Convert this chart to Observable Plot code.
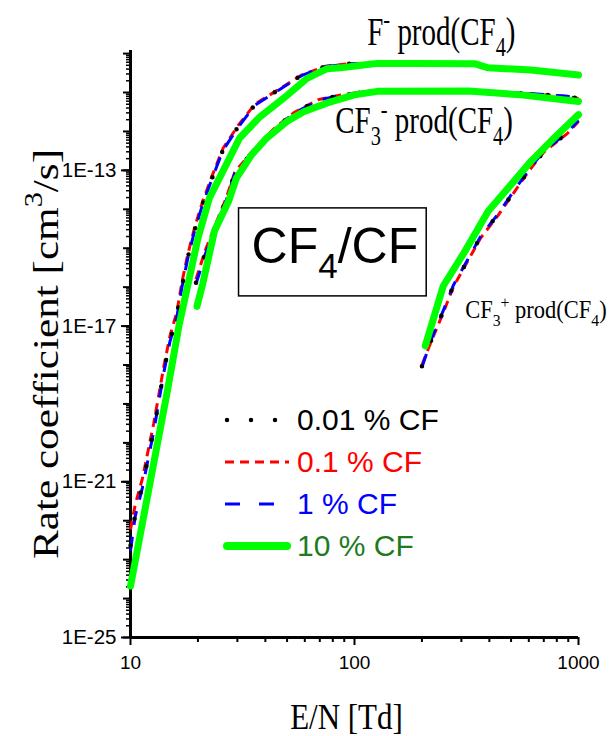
<!DOCTYPE html>
<html>
<head>
<meta charset="utf-8">
<script src="https://cdn.jsdelivr.net/npm/d3@7"></script>
<script src="https://cdn.jsdelivr.net/npm/@observablehq/plot@0.6"></script>
<style>
  html, body { margin: 0; padding: 0; background: #fff; }
  #wrap { position: relative; width: 611px; height: 736px; overflow: hidden; background: #fff; }
  #wrap svg { overflow: visible; }
  #legend { position: absolute; left: 225px; top: 399px; font-family: 'Liberation Sans', Arial, sans-serif; font-size: 30px; }
  #legend .row { display: flex; align-items: center; height: 42px; white-space: pre; }
  #legend .row svg { width: 72px; height: 42px; flex: none; }
</style>
</head>
<body>
<div id="wrap"></div>
<script>
const SANS = "'Liberation Sans', Arial, Helvetica, sans-serif";
const SERIF = "'Liberation Serif', 'Times New Roman', Times, serif";

// ---------- data: F- production from CF4 ----------
const fX    = [10, 10.5, 11.3, 12.7, 13.4, 14.1, 15, 16.1, 17, 18, 19.3, 21, 23.3, 25.9, 30.3, 35.9, 45.8, 58.3, 74.3, 96, 186, 343, 395, 614, 1000];
const fY001 = [2.3e-23, 1.5e-22, 7.9e-22, 2.2e-20, 1.3e-19, 7.1e-19, 4.2e-18, 1.8e-17, 1.1e-16, 5.6e-16, 2.8e-15, 1.4e-14, 7.1e-14, 3.4e-13, 1.35e-12, 4.8e-12, 1.17e-11, 2.8e-11, 4.7e-11, 5.5e-11, 5.6e-11, 5.6e-11, 4.2e-11, 3.8e-11, 2.8e-11];
const fY01  = [6.0e-23, 2.6e-22, 1.2e-21, 3.2e-20, 1.8e-19, 9.5e-19, 5.5e-18, 2.3e-17, 1.4e-16, 6.8e-16, 3.3e-15, 1.6e-14, 8.0e-14, 3.7e-13, 1.45e-12, 5.0e-12, 1.2e-11, 2.85e-11, 4.75e-11, 5.5e-11, 5.6e-11, 5.6e-11, 4.2e-11, 3.8e-11, 2.8e-11];
const fY1   = [1.7e-23, 1.3e-22, 7.0e-22, 2.0e-20, 1.2e-19, 6.6e-19, 4.0e-18, 1.7e-17, 1.05e-16, 5.4e-16, 2.7e-15, 1.35e-14, 6.9e-14, 3.3e-13, 1.3e-12, 4.7e-12, 1.15e-11, 2.75e-11, 4.65e-11, 5.5e-11, 5.6e-11, 5.6e-11, 4.2e-11, 3.8e-11, 2.8e-11];
const fGreenX = [10, 14.6, 16.5, 18.6, 20, 22.5, 25.4, 30.7, 37.9, 48.2, 61.4, 75.5, 86.7, 107, 127, 186, 343, 395, 614, 1000];
const fGreenY = [2.1e-24, 2.1e-19, 1.1e-17, 2.6e-16, 1.8e-15, 1.95e-14, 7.8e-14, 6.8e-13, 2.4e-12, 7.1e-12, 2.3e-11, 4.1e-11, 4.3e-11, 5.0e-11, 5.6e-11, 5.6e-11, 5.5e-11, 4.3e-11, 3.8e-11, 2.8e-11];

// ---------- data: CF3- production from CF4 ----------
const cX    = [19.6, 21.6, 24, 26.8, 29.2, 35.3, 43.5, 53.5, 69.3, 88.3, 120, 323, 571, 895, 1000];
const cY001 = [1.3e-16, 7.6e-16, 3.6e-15, 1.8e-14, 8.5e-14, 3.1e-13, 1.1e-12, 2.95e-12, 6.5e-12, 8.7e-12, 1.1e-11, 1.1e-11, 9.5e-12, 7.9e-12, 7.1e-12];
const cY01  = [1.6e-16, 9.0e-16, 4.2e-15, 2.0e-14, 9.0e-14, 3.3e-13, 1.15e-12, 3.0e-12, 6.6e-12, 8.8e-12, 1.1e-11, 1.1e-11, 9.5e-12, 7.9e-12, 7.0e-12];
const cY1   = [1.2e-16, 7.2e-16, 3.4e-15, 1.75e-14, 8.3e-14, 3.0e-13, 1.08e-12, 2.9e-12, 6.4e-12, 8.6e-12, 1.1e-11, 1.1e-11, 9.6e-12, 8.0e-12, 7.2e-12];
const cGreenX = [19.8, 21, 23.7, 27.4, 29.7, 34.7, 40.6, 49.9, 59.3, 75.5, 99.7, 126.5, 323, 553, 1000];
const cGreenY = [3.2e-17, 1.2e-16, 2.75e-15, 1.6e-14, 6.3e-14, 2.5e-13, 6.8e-13, 1.8e-12, 3.2e-12, 5.4e-12, 8.7e-12, 1.07e-11, 1.1e-11, 8.7e-12, 5.9e-12];

// ---------- data: CF3+ production from CF4 ----------
const pX    = [200, 221, 249, 276, 319, 366, 436, 509, 603, 702, 891, 1000];
const pY001 = [9.3e-19, 4.6e-18, 2.4e-17, 1.07e-16, 4.8e-16, 2.0e-15, 7.2e-15, 2.6e-14, 1.05e-13, 3.1e-13, 9.1e-13, 1.9e-12];
const pY01  = [1.0e-18, 4.3e-18, 2.2e-17, 1.0e-16, 4.5e-16, 1.85e-15, 6.8e-15, 2.45e-14, 1.0e-13, 3.0e-13, 8.8e-13, 1.8e-12];
const pY1   = [8.8e-19, 4.8e-18, 2.5e-17, 1.1e-16, 4.9e-16, 2.05e-15, 7.4e-15, 2.7e-14, 1.08e-13, 3.2e-13, 9.3e-13, 1.95e-12];
const pGreenX = [207, 249, 311, 395, 500, 613, 778, 1000];
const pGreenY = [3.1e-18, 1.07e-16, 8.3e-16, 8.9e-15, 4.3e-14, 1.7e-13, 6.8e-13, 2.7e-12];

// ---------- series, ticks, labels ----------
const seriesKeys = ["0.01", "0.1", "1", "10"];
const drawOrder = ["0.1", "1", "0.01", "10"];
const legendLabels = ["0.01 % CF", "0.1 % CF", "1 % CF", "10 % CF"];
const xTicksMajor = [10, 100, 1000];
const xTickLabels = ["10", "100", "1000"];
const yTicksMajor = [1e-25, 1e-21, 1e-17, 1e-13];
const yTickLabels = ["1E-25", "1E-21", "1E-17", "1E-13"];
const xLabel = "E/N [Td]";
const yLabel = "Rate coefficient [cm^{3}/s]";
const noteTexts = ["F^{-} prod(CF_{4})", "CF_{3}^{-} prod(CF_{4})", "CF_{3}^{+} prod(CF_{4})", "CF_{4}/CF"];
const noteX = [114, 82, 312, 34.7];
const noteY = [1.7e-10, 8.9e-13, 1.6e-17, 4.2e-16];

// ---------- styles ----------
const S = {
  "0.01": {stroke: "#000000", width: 4.5, dash: "0,27", cap: "round", text: "#000000"},
  "0.1":  {stroke: "#ff0000", width: 3,   dash: "9,6",  cap: "butt",  text: "#ff0000"},
  "1":    {stroke: "#0000ff", width: 3,   dash: "14,12", cap: "butt", text: "#0000ff"},
  "10":   {stroke: "#00ff00", width: 7,   dash: null,   cap: "round", text: "#1e7b1e"}
};
const noteStyle = [
  {family: SERIF, size: 29, sy: 1.35, box: false},
  {family: SERIF, size: 29, sy: 1.3, box: false},
  {family: SERIF, size: 22.5, sy: 1.12, box: false},
  {family: SANS, size: 50, sy: 1, box: true}
];

// ---------- tidy rows ----------
const rows = [];
function add(product, key, xs, ys) { xs.forEach((x, i) => rows.push({product, key, x, y: ys[i]})); }
add("F-", "0.01", fX, fY001); add("F-", "0.1", fX, fY01); add("F-", "1", fX, fY1); add("F-", "10", fGreenX, fGreenY);
add("CF3-", "0.01", cX, cY001); add("CF3-", "0.1", cX, cY01); add("CF3-", "1", cX, cY1); add("CF3-", "10", cGreenX, cGreenY);
add("CF3+", "0.01", pX, pY001); add("CF3+", "0.1", pX, pY01); add("CF3+", "1", pX, pY1); add("CF3+", "10", pGreenX, pGreenY);

// minor tick positions
const xMinor = [];
for (let e = 1; e < 3; e++) for (let m = 2; m <= 9; m++) xMinor.push(m * 10 ** e);
const yDecades = [], yMinor = [];
for (let e = -25; e <= -10; e++) {
  yDecades.push(+(`1e${e}`));
  for (let m = 2; m <= 9; m++) { const v = +(`${m}e${e}`); if (v <= 1.2e-10) yMinor.push(v); }
}

const lineMarks = drawOrder.map(k => Plot.line(rows.filter(r => r.key === k), {
  x: "x", y: "y", z: "product",
  stroke: S[k].stroke, strokeWidth: S[k].width,
  strokeDasharray: S[k].dash || undefined, strokeLinecap: S[k].cap, strokeLinejoin: "round"
}));

const noteMarks = noteTexts.map((t, i) => Plot.text([i], {
  x: d => noteX[d], y: d => noteY[d], text: d => noteTexts[d],
  textAnchor: "start", lineAnchor: "bottom",
  fontFamily: noteStyle[i].family, fontSize: noteStyle[i].size, fill: "black"
}));

const chart = Plot.plot({
  width: 611, height: 736,
  marginLeft: 130, marginRight: 33, marginTop: 50, marginBottom: 99,
  style: {fontFamily: SANS, fontSize: "19px", color: "black", background: "white", overflow: "visible"},
  x: {type: "log", domain: [10, 1000], axis: null},
  y: {type: "log", domain: [1e-25, 1.2e-10], axis: null},
  marks: [
    Plot.axisX({ticks: xMinor, tickSize: 5, strokeWidth: 2, tickFormat: () => "", label: null}),
    Plot.axisX({ticks: xTicksMajor, tickSize: 8, tickPadding: 10, strokeWidth: 2, fontSize: 19,
      tickFormat: d => xTickLabels[xTicksMajor.indexOf(d)], label: null}),
    Plot.axisY({ticks: yMinor, tickSize: 4, strokeWidth: 1.5, tickFormat: () => "", label: null}),
    Plot.axisY({ticks: yDecades, tickSize: 7, strokeWidth: 2, tickFormat: () => "", label: null}),
    Plot.axisY({ticks: yTicksMajor, tickSize: 9, tickPadding: 5, strokeWidth: 2, fontSize: 20.5,
      tickFormat: d => yTickLabels[yTicksMajor.indexOf(d)], label: null}),
    Plot.ruleX([10], {strokeWidth: 3}),
    Plot.ruleY([1e-25], {strokeWidth: 3}),
    ...lineMarks,
    ...noteMarks,
    Plot.text([xLabel], {frameAnchor: "bottom", text: d => d, dx: -8, dy: 91, lineAnchor: "bottom", textAnchor: "middle",
      fontFamily: SERIF, fontSize: 31, fill: "black"}),
    Plot.text([yLabel], {frameAnchor: "left", text: d => d, dx: -73, dy: 10, rotate: -90, lineAnchor: "bottom", textAnchor: "middle",
      fontFamily: SERIF, fontSize: 36, fill: "black"})
  ]
});

const wrap = document.getElementById("wrap");
wrap.appendChild(chart);

// ---------- post-render text styling ----------
const NS = "http://www.w3.org/2000/svg";
const textSettings = new Map();
noteTexts.forEach((s, i) => textSettings.set(s, {sx: 1, sy: noteStyle[i].sy, box: noteStyle[i].box}));
textSettings.set(xLabel, {sx: 1, sy: 1.13, box: false});
textSettings.set(yLabel, {sx: 1.2, sy: 1, box: false});
const styled = [];
chart.querySelectorAll("text").forEach(t => {
  const st = textSettings.get(t.textContent);
  if (st) styled.push([t, st]);
});

function richify(t) {
  const s = t.textContent;
  if (!/[_^]\{/.test(s)) return;
  const fs = parseFloat(getComputedStyle(t).fontSize) || 16;
  while (t.firstChild) t.removeChild(t.firstChild);
  const re = /([_^])\{([^}]*)\}|([^_^]+)/g;
  let m, off = 0;
  while ((m = re.exec(s))) {
    const sp = document.createElementNS(NS, "tspan");
    if (m[3] !== undefined) {
      sp.textContent = m[3];
      if (off) sp.setAttribute("dy", -off);
      off = 0;
    } else {
      const target = m[1] === "_" ? 0.3 * fs : -0.42 * fs;
      sp.setAttribute("dy", target - off);
      sp.setAttribute("font-size", 0.7 * fs);
      sp.textContent = m[2];
      off = target;
    }
    t.appendChild(sp);
  }
}

styled.forEach(([t, st]) => {
  richify(t);
  if (st.sx !== 1 || st.sy !== 1) {
    t.setAttribute("transform", (t.getAttribute("transform") || "") + ` scale(${st.sx},${st.sy})`);
  }
  if (st.box) {
    const bb = t.getBBox();
    const r = document.createElementNS(NS, "rect");
    r.setAttribute("x", bb.x - 13);
    r.setAttribute("y", bb.y - 10);
    r.setAttribute("width", bb.width + 21);
    r.setAttribute("height", bb.height + 21);
    r.setAttribute("fill", "none");
    r.setAttribute("stroke", "black");
    r.setAttribute("stroke-width", 1.5);
    if (t.getAttribute("transform")) r.setAttribute("transform", t.getAttribute("transform"));
    t.parentNode.insertBefore(r, t);
  }
});

// ---------- legend ----------
const legend = document.createElement("div");
legend.id = "legend";
seriesKeys.forEach((k, i) => {
  const row = document.createElement("div");
  row.className = "row";
  const sw = document.createElementNS(NS, "svg");
  const ln = document.createElementNS(NS, "line");
  ln.setAttribute("x1", S[k].cap === "round" ? 2 : 0);
  ln.setAttribute("x2", k === "10" ? 62 : k === "1" ? 56 : 64);
  ln.setAttribute("y1", 21); ln.setAttribute("y2", 21);
  ln.setAttribute("stroke", S[k].stroke);
  ln.setAttribute("stroke-width", k === "10" ? 8 : S[k].width);
  ln.setAttribute("stroke-linecap", S[k].cap);
  if (S[k].dash) ln.setAttribute("stroke-dasharray", k === "0.01" ? "0,24" : k === "1" ? "15,19" : S[k].dash);
  sw.appendChild(ln);
  row.appendChild(sw);
  const tx = document.createElement("span");
  tx.textContent = legendLabels[i];
  tx.style.color = S[k].text;
  row.appendChild(tx);
  legend.appendChild(row);
});
wrap.appendChild(legend);
</script>
</body>
</html>
